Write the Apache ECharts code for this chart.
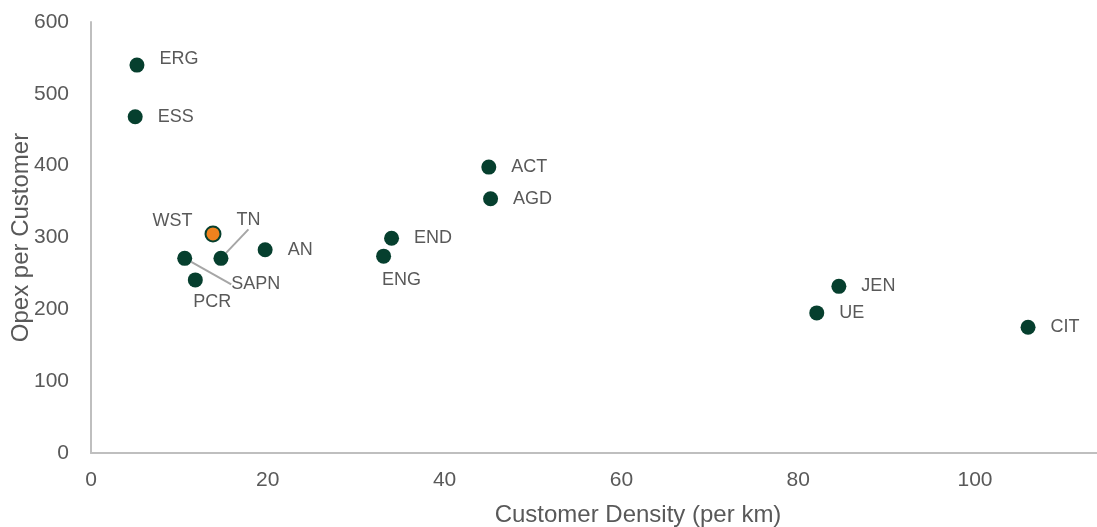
<!DOCTYPE html>
<html><head><meta charset="utf-8">
<script src="https://cdn.jsdelivr.net/npm/echarts@6/dist/echarts.min.js"></script>
<style>html,body{margin:0;padding:0;background:#fff}#c{width:1097px;height:527px}</style>
</head><body><div id="c"></div>
<script>
const names   = ['ERG','ESS','WST','TN','SAPN','PCR','AN','END','ENG','ACT','AGD','JEN','UE','CIT'];
const density = [5.2, 5.0, 13.8, 14.7, 10.6, 11.8, 19.7, 34.0, 33.1, 45.0, 45.2, 84.6, 82.1, 106.0];
const opex    = [540, 468, 305, 271, 271, 241, 283, 299, 274, 398, 354, 232, 195, 175];
const highlight = 'WST';
const xTicks = [0, 20, 40, 60, 80, 100];
const yTicks = [0, 100, 200, 300, 400, 500, 600];

const FONT = 'Liberation Sans';
// label placement tweaks (relative moves from the default right-hand position)
const labelMove = {
  ERG:  {dx: 0, dy: -6},
  WST:  {left: true, dx: 3, dy: -13},
  TN:   {dx: -7, dy: -38, line: true},
  SAPN: {dx: 24, dy: 26, line: true},
  PCR:  {bottom: true, dx: 17, dy: 0},
  ENG:  {bottom: true, dx: 18, dy: 1}
};

const data = names.map((n, i) => {
  const item = {name: n, value: [density[i], opex[i]]};
  if (n === highlight) item.itemStyle = {color: '#F0821E', borderColor: '#063F2E', borderWidth: 2};
  const m = labelMove[n];
  if (m) {
    if (m.left) item.label = {position: 'left'};
    if (m.bottom) item.label = {position: 'bottom', distance: 6};
    if (m.line) item.labelLine = {show: true};
  }
  return item;
});

const chart = echarts.init(document.getElementById('c'));
chart.setOption({
  animation: false,
  grid: {left: 91, right: 0, top: 22, bottom: 74, outerBoundsMode: 'none', containLabel: false},
  xAxis: {
    type: 'value', min: 0, max: 113.8, interval: 20,
    name: 'Customer Density (per km)', nameLocation: 'middle', nameGap: 50, nameMoveOverlap: false,
    nameTextStyle: {fontFamily: FONT, fontSize: 24, color: '#595959', padding: [0, 0, 0, 88]},
    axisLine: {show: true, lineStyle: {color: '#BFBFBF', width: 2}},
    axisTick: {show: false}, splitLine: {show: false},
    axisLabel: {fontFamily: FONT, fontSize: 21, color: '#595959', margin: 17, showMaxLabel: false,
      formatter: v => xTicks.includes(v) ? String(v) : ''}
  },
  yAxis: {
    type: 'value', min: 0, max: 600, interval: 100,
    name: 'Opex per Customer', nameLocation: 'middle', nameGap: 58, nameMoveOverlap: false,
    nameTextStyle: {fontFamily: FONT, fontSize: 24, color: '#595959'},
    axisLine: {show: true, lineStyle: {color: '#BFBFBF', width: 2}},
    axisTick: {show: false}, splitLine: {show: false},
    axisLabel: {fontFamily: FONT, fontSize: 21, color: '#595959', margin: 22,
      formatter: v => yTicks.includes(v) ? String(v) : ''}
  },
  series: [{
    type: 'scatter',
    symbolSize: 15,
    itemStyle: {color: '#063F2E', opacity: 1},
    data: data,
    label: {show: true, position: 'right', distance: 15, formatter: p => p.name,
      fontFamily: FONT, fontSize: 18, color: '#595959'},
    labelLine: {show: false, lineStyle: {color: '#A6A6A6', width: 2}},
    labelLayout: function (p) {
      const m = labelMove[names[p.dataIndex]];
      if (m) return {dx: m.dx, dy: m.dy};
      return {};
    }
  }]
});
</script></body></html>
